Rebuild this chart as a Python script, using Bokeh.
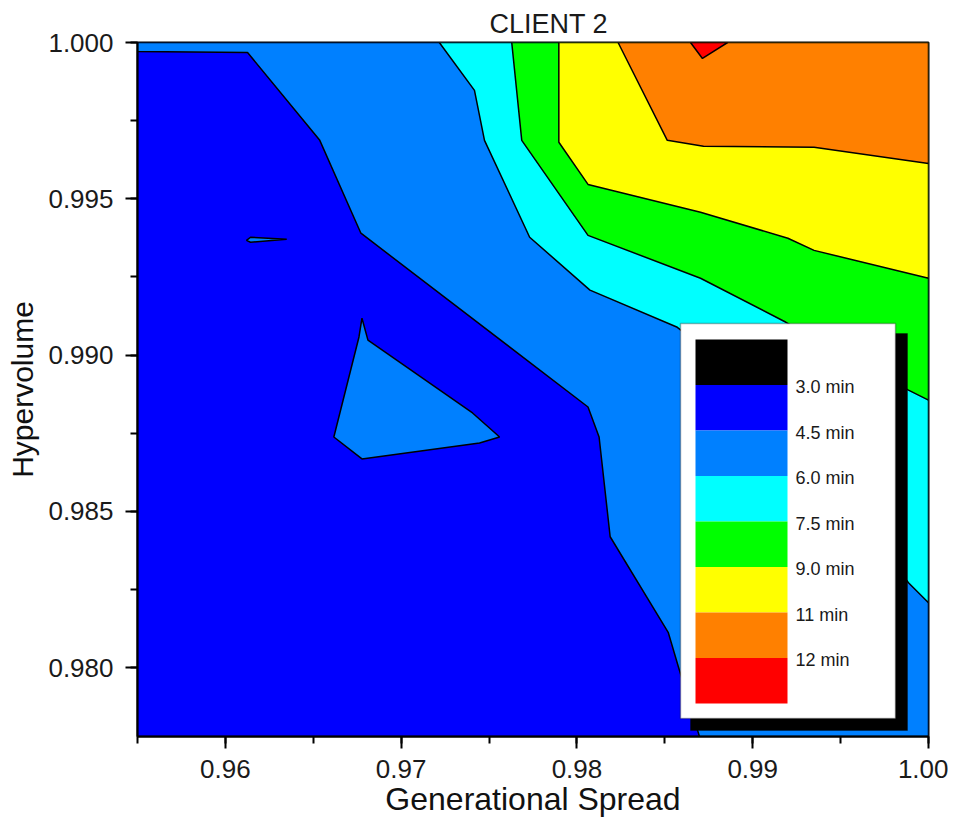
from bokeh.plotting import figure
from bokeh.models import (Range1d, SingleIntervalTicker, PrintfTickFormatter,
                          BoxAnnotation, Label, ColumnDataSource)
from bokeh.embed import file_html
from bokeh.resources import INLINE

# ---------------- data ----------------
title_text = "CLIENT 2"
x_label = "Generational Spread"
y_label = "Hypervolume"

level_labels = ["3.0 min", "4.5 min", "6.0 min", "7.5 min", "9.0 min", "11 min", "12 min"]
band_colors = ["#000000", "#0000FF", "#0080FF", "#00FFFF", "#00FF00",
               "#FFFF00", "#FF8000", "#FF0000"]

# whole data domain (3.0 - 4.5 min band underneath)
domain_x = [0.955, 1.0, 1.0, 0.955]
domain_y = [0.9778, 0.9778, 1.0, 1.0]

# region >= 4.5 min
ge45_x = [0.955, 0.96126, 0.96537, 0.96771, 0.98063, 0.98126, 0.98189, 0.98520,
          0.98577, 0.98697, 1.0, 1.0, 0.955]
ge45_y = [0.99971, 0.99968, 0.99687, 0.99390, 0.98834, 0.98738, 0.98419, 0.98112,
          0.98003, 0.9778, 0.9778, 1.0, 1.0]
# islands >= 4.5 min
island_x = [0.96777, 0.96811, 0.97406, 0.97560, 0.97446, 0.96777, 0.96617, 0.96760]
island_y = [0.99118, 0.99048, 0.98815, 0.98738, 0.98719, 0.98668, 0.98738, 0.99058]
sliver_x = [0.96120, 0.96143, 0.96349, 0.96143]
sliver_y = [0.99367, 0.99377, 0.99371, 0.99361]

# region >= 6.0 min
ge60_x = [0.97217, 0.97417, 0.97474, 0.97731, 0.98074, 0.98571, 0.99103, 0.99886, 1.0, 1.0]
ge60_y = [1.0, 0.99847, 0.99687, 0.99377, 0.99208, 0.99089, 0.98856, 0.98272, 0.98208, 1.0]

# region >= 7.5 min
ge75_x = [0.97629, 0.97686, 0.98063, 0.98703, 0.99189, 0.99886, 1.0, 1.0]
ge75_y = [1.0, 0.99687, 0.99383, 0.99246, 0.99105, 0.98888, 0.98856, 1.0]

# region >= 9.0 min
ge90_x = [0.97897, 0.97897, 0.98063, 0.98703, 0.99200, 0.99349, 1.0, 1.0]
ge90_y = [1.0, 0.99681, 0.99546, 0.99457, 0.99374, 0.99335, 0.99246, 1.0]

# region >= 10.5 min
ge105_x = [0.98234, 0.98514, 0.98720, 0.99349, 1.0, 1.0]
ge105_y = [1.0, 0.99687, 0.99668, 0.99665, 0.99613, 1.0]

# region >= 12 min
ge120_x = [0.98646, 0.98714, 0.98857]
ge120_y = [1.0, 0.99949, 1.0]

x_start, x_end = 0.955, 1.0
y_start, y_end = 0.9778, 1.0

# ---------------- figure ----------------
FONT = "Liberation Sans"

p = figure(frame_width=791, frame_height=694,
           x_range=Range1d(x_start, x_end), y_range=Range1d(y_start, y_end),
           output_backend="svg", toolbar_location=None,
           min_border_left=137, min_border_right=20, min_border_top=42,
           min_border_bottom=80, background_fill_color="white")
p.xgrid.visible = False
p.ygrid.visible = False
p.outline_line_color = "black"
p.outline_line_width = 2
p.outline_line_alpha = 1.0

regions = ColumnDataSource(dict(
    xs=[domain_x, ge45_x, island_x, sliver_x, ge60_x, ge75_x, ge90_x, ge105_x, ge120_x],
    ys=[domain_y, ge45_y, island_y, sliver_y, ge60_y, ge75_y, ge90_y, ge105_y, ge120_y],
    color=[band_colors[1], band_colors[2], band_colors[2], band_colors[2], band_colors[3],
           band_colors[4], band_colors[5], band_colors[6], band_colors[7]],
))
p.patches("xs", "ys", source=regions, fill_color="color", line_color="black",
          line_width=1.5)

# title
p.title.text = title_text
p.title.text_font = FONT
p.title.text_font_size = "27px"
p.title.text_font_style = "normal"
p.title.text_color = "#1a1a1a"
p.title.align = "left"
p.title.offset = 352
p.title.standoff = 8

# axes
p.xaxis.ticker = SingleIntervalTicker(interval=0.01, num_minor_ticks=2)
p.yaxis.ticker = SingleIntervalTicker(interval=0.005, num_minor_ticks=2)
p.xaxis.formatter = PrintfTickFormatter(format="%.2f")
p.yaxis.formatter = PrintfTickFormatter(format="%.3f")
for ax in (p.xaxis, p.yaxis):
    ax.axis_line_width = 2
    ax.major_tick_in = 0
    ax.major_tick_out = 12
    ax.minor_tick_in = 0
    ax.minor_tick_out = 7
    ax.major_tick_line_width = 2
    ax.minor_tick_line_width = 2
    ax.major_label_text_font = FONT
    ax.major_label_text_font_size = "26px"
    ax.major_label_text_color = "#1a1a1a"
    ax.axis_label_text_font = FONT
    ax.axis_label_text_font_style = "normal"
    ax.axis_label_text_color = "#111111"
p.xaxis.axis_label_text_font_size = "32px"
p.yaxis.axis_label_text_font_size = "30px"
p.xaxis.axis_label = x_label
p.yaxis.axis_label = y_label
p.xaxis.major_label_standoff = 11
p.yaxis.major_label_standoff = 12
p.xaxis.axis_label_standoff = 0
p.yaxis.axis_label_standoff = 6

# ---------------- colour-scale legend (screen units, frame relative) ----------------
sw_left, sw_right, sw_top, sw_h = 558, 650, 397, 45.5
p.add_layout(BoxAnnotation(left=553, right=770, bottom=6, top=403,
                           left_units="screen", right_units="screen",
                           bottom_units="screen", top_units="screen",
                           fill_color="black", fill_alpha=1, line_color="black"))
p.add_layout(BoxAnnotation(left=543, right=758, bottom=18, top=413,
                           left_units="screen", right_units="screen",
                           bottom_units="screen", top_units="screen",
                           fill_color="white", fill_alpha=1, line_color="black",
                           line_width=1.5))
for i, c in enumerate(band_colors):
    p.add_layout(BoxAnnotation(left=sw_left, right=sw_right,
                               top=sw_top - i * sw_h, bottom=sw_top - (i + 1) * sw_h,
                               left_units="screen", right_units="screen",
                               bottom_units="screen", top_units="screen",
                               fill_color=c, fill_alpha=1, line_color=None))
for i, t in enumerate(level_labels):
    p.add_layout(Label(x=sw_right + 8, y=sw_top - (i + 1) * sw_h - 2, text=t,
                       x_units="screen", y_units="screen",
                       text_font=FONT, text_font_size="18px", text_color="#1a1a1a",
                       text_baseline="middle", text_align="left"))

open("out.html", "w").write(file_html(p, INLINE))
